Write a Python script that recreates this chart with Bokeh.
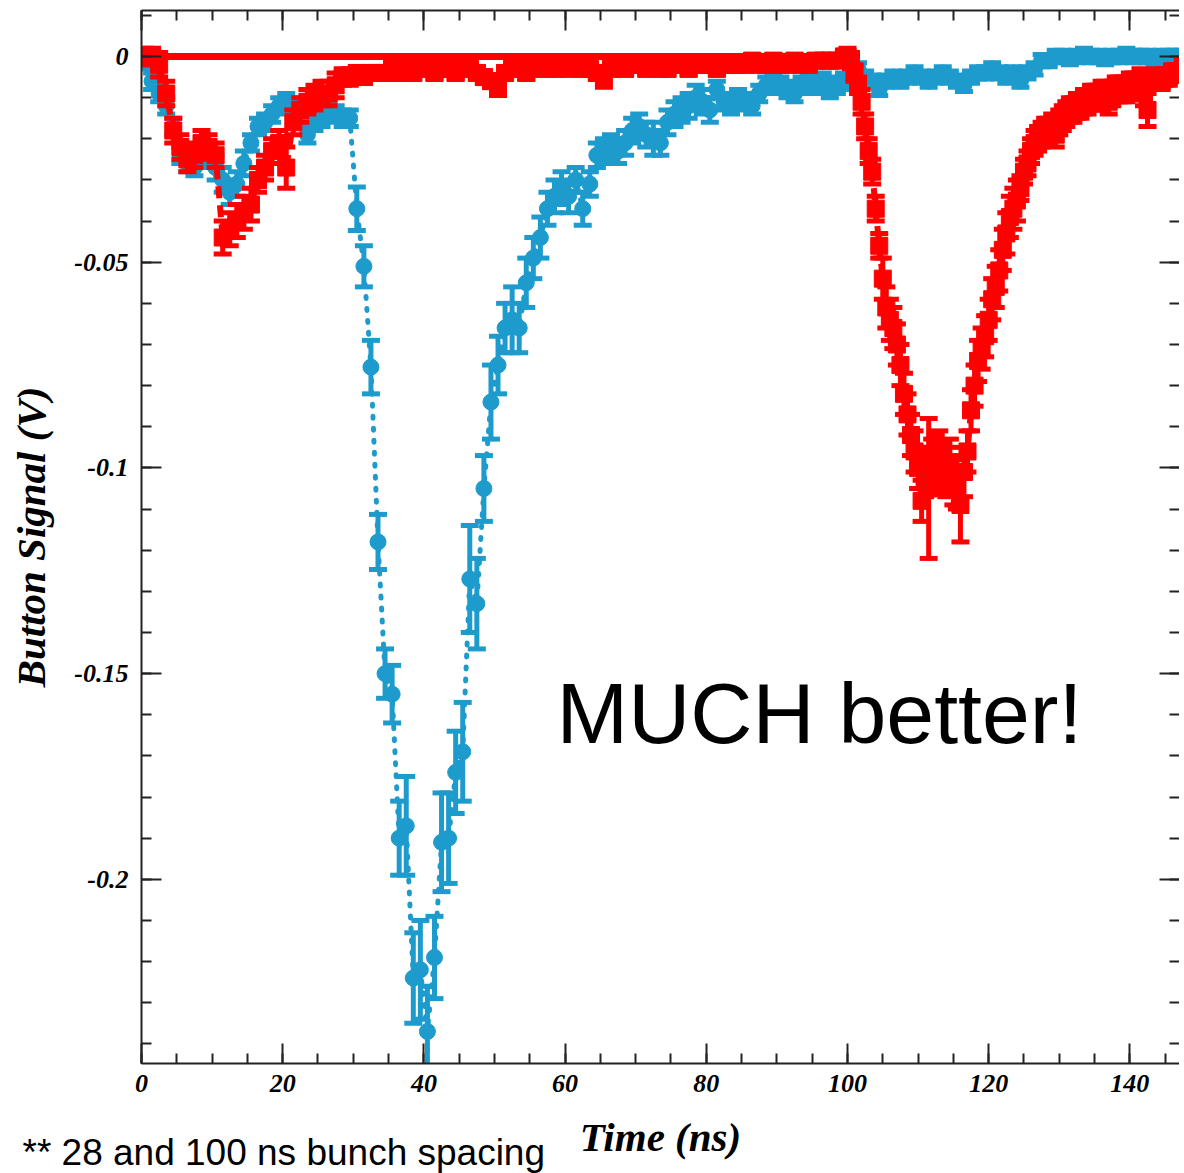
import numpy as np
from bokeh.plotting import figure
from bokeh.models import (ColumnDataSource, LinearAxis, SingleIntervalTicker, Range1d,
                          CustomJSTickFormatter, Label, Title)
from bokeh.embed import file_html
from bokeh.resources import INLINE

# ---------------- data ----------------
# 28 ns bunch spacing (blue), sampled every 1 ns
blue_time = np.arange(0.5, 148.0, 1.0)
blue_signal = [
    -0.001, -0.006, -0.009, -0.012, -0.017, -0.024, -0.026, -0.027, -0.025, -0.025,
    -0.027, -0.030, -0.033, -0.031, -0.026, -0.021, -0.017, -0.016, -0.014, -0.012,
    -0.011, -0.012, -0.015, -0.019, -0.016, -0.015, -0.013, -0.014, -0.015, -0.015,
    -0.037, -0.051, -0.0755, -0.118, -0.150, -0.155, -0.190, -0.187, -0.224, -0.222,
    -0.237, -0.219, -0.191, -0.190, -0.174, -0.169, -0.127, -0.133, -0.105, -0.084,
    -0.075, -0.066, -0.064, -0.066, -0.055, -0.049, -0.044, -0.037, -0.034, -0.032,
    -0.034, -0.030, -0.037, -0.031, -0.024, -0.023, -0.022, -0.023, -0.021, -0.018,
    -0.017, -0.019, -0.020, -0.021, -0.016, -0.014, -0.013, -0.012, -0.010, -0.011,
    -0.013, -0.008, -0.011, -0.012, -0.010, -0.011, -0.012, -0.009, -0.007, -0.006,
    -0.007, -0.008, -0.009, -0.007, -0.006, -0.007, -0.006, -0.008, -0.007, -0.006,
    -0.005, -0.003, -0.005, -0.006, -0.008, -0.006, -0.005, -0.006, -0.005, -0.004,
    -0.005, -0.006, -0.005, -0.004, -0.005, -0.006, -0.007, -0.005, -0.004, -0.004,
    -0.003, -0.004, -0.005, -0.004, -0.006, -0.004, -0.003, -0.001, -0.001, 0.000,
    0.000, -0.0005, 0.000, 0.0005, 0.000, 0.000, -0.0005, 0.000, 0.000, 0.0005,
    0.000, 0.000, 0.000, -0.0005, 0.000, 0.000, 0.000, 0.000,
]
blue_error = [
    0.002, 0.002, 0.002, 0.002, 0.002, 0.002, 0.002, 0.002, 0.002, 0.002,
    0.003, 0.003, 0.003, 0.003, 0.003, 0.002, 0.002, 0.002, 0.002, 0.002,
    0.002, 0.002, 0.002, 0.002, 0.002, 0.002, 0.002, 0.002, 0.002, 0.002,
    0.0053, 0.005, 0.0065, 0.0067, 0.006, 0.007, 0.009, 0.012, 0.011, 0.012,
    0.011, 0.010, 0.012, 0.011, 0.010, 0.012, 0.013, 0.011, 0.008, 0.009,
    0.007, 0.006, 0.008, 0.006, 0.006, 0.005, 0.005, 0.004, 0.004, 0.004,
    0.004, 0.003, 0.004, 0.003, 0.003, 0.003, 0.003, 0.003, 0.003, 0.003,
    0.003, 0.003, 0.004, 0.003, 0.003, 0.003, 0.003, 0.003, 0.003, 0.003,
    0.003, 0.002, 0.002, 0.002, 0.002, 0.002, 0.002, 0.002, 0.002, 0.002,
    0.002, 0.002, 0.002, 0.002, 0.002, 0.002, 0.002, 0.002, 0.002, 0.002,
    0.002, 0.0015, 0.0015, 0.0015, 0.0015, 0.0015, 0.0015, 0.0015, 0.0015, 0.0015,
    0.0015, 0.0015, 0.0015, 0.0015, 0.0015, 0.0015, 0.0015, 0.0015, 0.0015, 0.0015,
    0.0015, 0.0015, 0.0015, 0.0015, 0.0015, 0.0015, 0.0015, 0.0015, 0.0015, 0.0015,
    0.0015, 0.0015, 0.0015, 0.0015, 0.0015, 0.0015, 0.0015, 0.0015, 0.0015, 0.0015,
    0.0015, 0.0015, 0.0015, 0.0015, 0.0015, 0.0015, 0.0015, 0.0015,
]

# 100 ns bunch spacing (red): 1 ns sampling up to 100 ns, 0.5 ns afterwards
red_time = np.concatenate([np.arange(0.5, 100.0, 1.0), np.arange(100.0, 148.0, 0.5)])
red_signal = [
    0.000, 0.000, -0.002, -0.009, -0.018, -0.022, -0.025, -0.024, -0.021, -0.022,
    -0.024, -0.044, -0.042, -0.040, -0.038, -0.036, -0.030, -0.027, -0.023, -0.021,
    -0.027, -0.016, -0.013, -0.011, -0.010, -0.009, -0.009, -0.007, -0.005, -0.005,
    -0.004, -0.005, -0.004, -0.004, -0.004, -0.003, -0.004, -0.003, -0.004, -0.003,
    -0.003, -0.004, -0.003, -0.003, -0.004, -0.003, -0.003, -0.004, -0.005, -0.006,
    -0.007, -0.004, -0.003, -0.003, -0.004, -0.003, -0.002, -0.003, -0.003, -0.002,
    -0.003, -0.002, -0.003, -0.003, -0.004, -0.005, -0.003, -0.002, -0.003, -0.002,
    -0.002, -0.003, -0.002, -0.003, -0.003, -0.002, -0.002, -0.003, -0.002, -0.002,
    -0.002, -0.003, -0.002, -0.002, -0.002, -0.002, -0.001, -0.002, -0.002, -0.001,
    -0.002, -0.002, -0.001, -0.002, -0.002, -0.001, -0.001, -0.001, -0.001, 0.000,
    # 100.0 .. 147.5 every 0.5 ns
    0.000, -0.001, -0.004, -0.007, -0.011, -0.017, -0.023, -0.028, -0.037, -0.046,
    -0.054, -0.061, -0.064, -0.066, -0.070, -0.075, -0.082, -0.087, -0.092, -0.096,
    -0.100, -0.108, -0.101, -0.105, -0.099, -0.098, -0.097, -0.100, -0.101, -0.099,
    -0.103, -0.104, -0.109, -0.101, -0.096, -0.086, -0.080, -0.074, -0.071, -0.068,
    -0.064, -0.059, -0.056, -0.052, -0.047, -0.043, -0.039, -0.037, -0.035, -0.032,
    -0.028, -0.026, -0.023, -0.021, -0.020, -0.019, -0.018, -0.018, -0.017, -0.019,
    -0.016, -0.015, -0.014, -0.013, -0.013, -0.012, -0.012, -0.011, -0.011, -0.010,
    -0.010, -0.010, -0.009, -0.009, -0.011, -0.009, -0.008, -0.008, -0.008, -0.008,
    -0.007, -0.007, -0.007, -0.006, -0.009, -0.013, -0.006, -0.006, -0.005, -0.006,
    -0.005, -0.005, -0.004, -0.004, -0.004, -0.003,
]
red_error = [
    0.002, 0.002, 0.003, 0.003, 0.003, 0.003, 0.003, 0.003, 0.003, 0.003,
    0.003, 0.004, 0.004, 0.004, 0.004, 0.004, 0.003, 0.003, 0.003, 0.003,
    0.005, 0.003, 0.003, 0.003, 0.003, 0.003, 0.003, 0.003, 0.002, 0.002,
    0.0015, 0.0015, 0.0015, 0.0015, 0.0015, 0.0015, 0.0015, 0.0015, 0.0015, 0.0015,
    0.0015, 0.0015, 0.0015, 0.0015, 0.0015, 0.0015, 0.0015, 0.0015, 0.0015, 0.0015,
    0.0025, 0.0015, 0.0015, 0.0015, 0.0015, 0.0015, 0.0015, 0.0015, 0.0015, 0.0015,
    0.0015, 0.0015, 0.0015, 0.0015, 0.0015, 0.0025, 0.0015, 0.0015, 0.0015, 0.0015,
    0.0015, 0.0015, 0.0015, 0.0015, 0.0015, 0.0015, 0.0015, 0.0015, 0.0015, 0.0015,
    0.0015, 0.0015, 0.0015, 0.0015, 0.0015, 0.0015, 0.0015, 0.0015, 0.0015, 0.0015,
    0.0015, 0.0015, 0.0015, 0.0015, 0.0015, 0.0015, 0.0015, 0.0015, 0.0015, 0.0015,
    0.002, 0.002, 0.002, 0.002, 0.003, 0.003, 0.003, 0.003, 0.003, 0.003,
    0.005, 0.005, 0.005, 0.005, 0.005, 0.005, 0.005, 0.005, 0.005, 0.005,
    0.005, 0.005, 0.006, 0.017, 0.006, 0.006, 0.006, 0.006, 0.006, 0.006,
    0.006, 0.006, 0.009, 0.006, 0.005, 0.005, 0.005, 0.005, 0.005, 0.005,
    0.005, 0.005, 0.005, 0.005, 0.005, 0.005, 0.005, 0.005, 0.005, 0.003,
    0.003, 0.003, 0.003, 0.003, 0.003, 0.003, 0.003, 0.003, 0.003, 0.003,
    0.003, 0.003, 0.003, 0.003, 0.003, 0.003, 0.003, 0.003, 0.003, 0.003,
    0.003, 0.003, 0.003, 0.003, 0.003, 0.003, 0.003, 0.003, 0.003, 0.003,
    0.003, 0.003, 0.003, 0.003, 0.003, 0.004, 0.002, 0.002, 0.002, 0.002,
    0.002, 0.002, 0.002, 0.002, 0.002, 0.002,
]
red_baseline_time = [0.0, 101.0]
red_baseline_signal = [0.0, 0.0]

x_label = "Time (ns)"
y_label = "Button Signal (V)"
annotation_text = "MUCH better!"
footnote_text = "** 28 and 100 ns bunch spacing"

# ---------------- style ----------------
BLUE = "#1e9bcd"
RED = "#ff0000"
AXIS_COLOR = "#222222"
SERIF = "Liberation Serif"
SANS = "Liberation Sans"

blue_src = ColumnDataSource(dict(
    t=blue_time, v=blue_signal,
    lo=[v - e for v, e in zip(blue_signal, blue_error)],
    hi=[v + e for v, e in zip(blue_signal, blue_error)],
))
red_src = ColumnDataSource(dict(
    t=red_time, v=red_signal,
    lo=[v - e for v, e in zip(red_signal, red_error)],
    hi=[v + e for v, e in zip(red_signal, red_error)],
))

p = figure(frame_width=1038, frame_height=1053,
           x_range=Range1d(0, 147.03), y_range=Range1d(-0.24477, 0.01118),
           output_backend="svg", toolbar_location=None,
           x_axis_location=None, y_axis_location=None,
           min_border_left=141, min_border_top=10, min_border_bottom=110, min_border_right=0,
           background_fill_color="white", border_fill_color="white")
p.outline_line_color = None
p.xgrid.visible = False
p.ygrid.visible = False

xticker = SingleIntervalTicker(interval=20, num_minor_ticks=4)
yticker = SingleIntervalTicker(interval=0.05, num_minor_ticks=5)
yfmt = CustomJSTickFormatter(code="""
if (Math.abs(tick) < 1e-9) { return '0'; }
return tick.toFixed(2).replace(/0+$/, '').replace(/\\.$/, '');
""")
xfmt = CustomJSTickFormatter(code="return Math.round(tick).toString();")
blank = CustomJSTickFormatter(code="return '';")


def style(ax, show_line=True):
    ax.axis_line_color = AXIS_COLOR if show_line else None
    ax.axis_line_width = 2
    ax.major_tick_in = 20
    ax.major_tick_out = 0
    ax.minor_tick_in = 10
    ax.minor_tick_out = 0
    ax.major_tick_line_color = AXIS_COLOR
    ax.minor_tick_line_color = AXIS_COLOR
    ax.major_tick_line_width = 2
    ax.minor_tick_line_width = 2
    ax.major_label_text_font = SERIF
    ax.major_label_text_font_style = "bold italic"
    ax.major_label_text_font_size = "26px"
    ax.major_label_text_color = "black"
    ax.axis_label_text_font = SERIF
    ax.axis_label_text_font_style = "bold italic"
    ax.axis_label_text_font_size = "41px"
    ax.axis_label_text_color = "black"


bottom = LinearAxis(ticker=xticker, formatter=xfmt, axis_label=x_label)
style(bottom)
bottom.major_label_standoff = 11
bottom.axis_label_standoff = 19
p.add_layout(bottom, "below")

left = LinearAxis(ticker=yticker, formatter=yfmt, axis_label=y_label)
style(left)
left.major_label_standoff = 13
left.axis_label_standoff = 17
p.add_layout(left, "left")

top = LinearAxis(ticker=xticker, formatter=blank)
style(top)
top.major_label_standoff = 0
p.add_layout(top, "above")

right = LinearAxis(ticker=yticker, formatter=blank)
style(right, show_line=False)
right.major_label_standoff = 0
p.add_layout(right, "right")

# blue series
p.line("t", "v", source=blue_src, line_color=BLUE, line_width=5,
       line_dash="2 10", line_cap="round")
p.segment(x0="t", y0="lo", x1="t", y1="hi", source=blue_src, line_color=BLUE, line_width=5)
p.scatter("t", "lo", source=blue_src, marker="dash", size=18, line_color=BLUE, line_width=5)
p.scatter("t", "hi", source=blue_src, marker="dash", size=18, line_color=BLUE, line_width=5)
p.scatter("t", "v", source=blue_src, marker="circle", size=16,
          fill_color=BLUE, line_color=BLUE)

# red series
p.line(red_baseline_time, red_baseline_signal, line_color=RED, line_width=7)
p.line("t", "v", source=red_src, line_color=RED, line_width=6, line_dash="12 7")
p.segment(x0="t", y0="lo", x1="t", y1="hi", source=red_src, line_color=RED, line_width=5)
p.scatter("t", "lo", source=red_src, marker="dash", size=18, line_color=RED, line_width=5)
p.scatter("t", "hi", source=red_src, marker="dash", size=18, line_color=RED, line_width=5)
p.scatter("t", "v", source=red_src, marker="square", size=17,
          fill_color=RED, line_color=RED)

p.add_layout(Label(x=58.8, y=-0.1595, text=annotation_text, text_font=SANS,
                   text_font_size="86px", text_color="black",
                   text_align="left", text_baseline="alphabetic"))

# footnote drawn in the bottom border (a side-panel title is not clipped to the frame)
foot = Title(text=footnote_text, align="left", offset=-119, standoff=-62,
             vertical_align="top", text_font=SANS, text_font_style="normal",
             text_font_size="37px", text_color="black")
p.add_layout(foot, "below")

open("out.html", "w").write(file_html(p, INLINE))
